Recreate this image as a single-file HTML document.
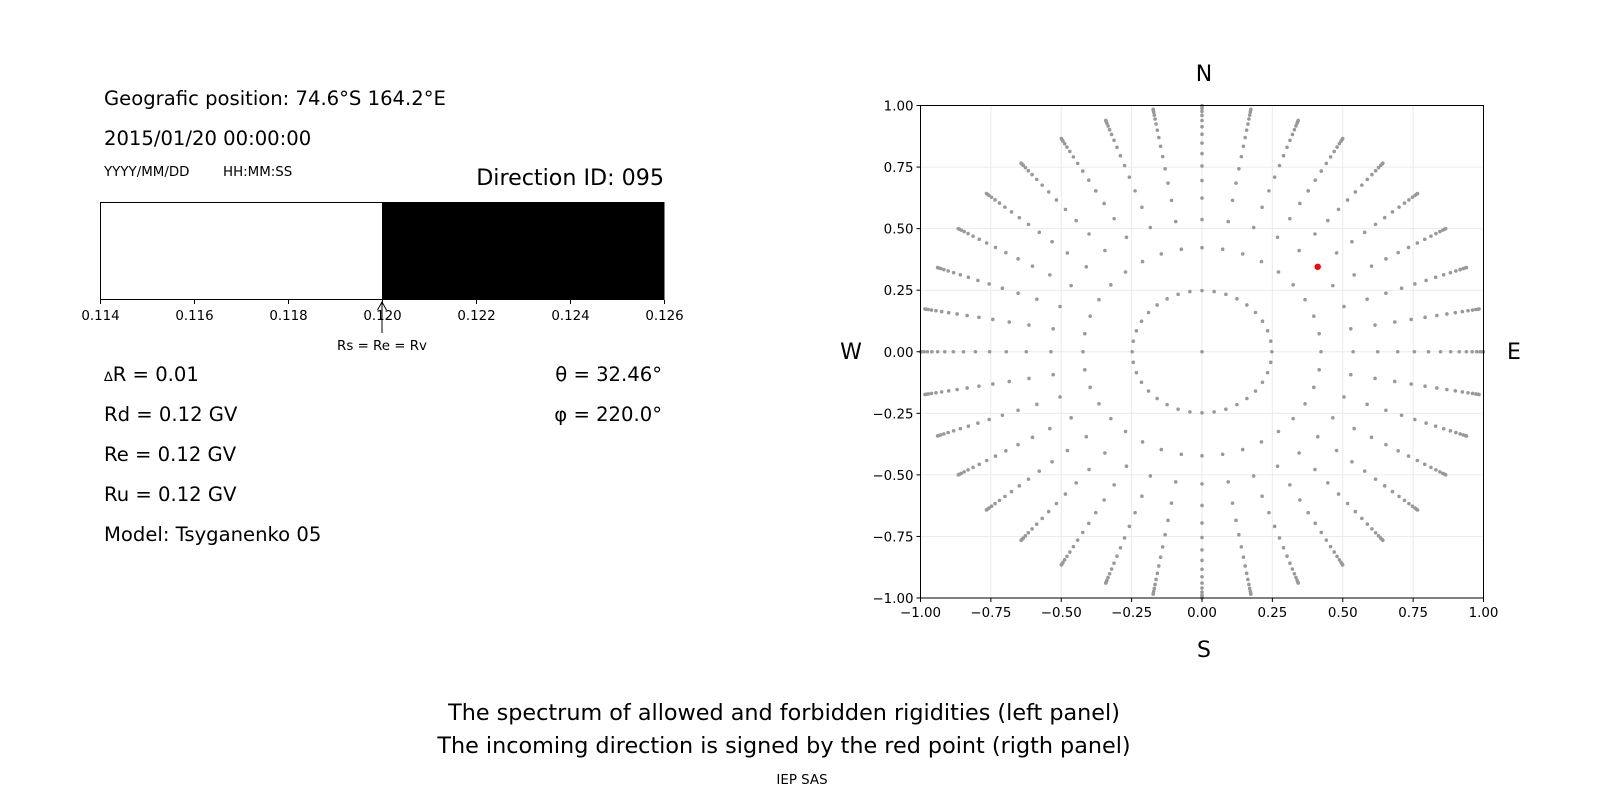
<!DOCTYPE html>
<html><head><meta charset="utf-8"><style>
html,body{margin:0;padding:0;background:#fff;}
svg text{font-family:"DejaVu Sans","Liberation Sans",sans-serif;fill:#000;}
</style></head><body>
<svg id="s" width="1600" height="800" viewBox="0 0 1600 800" xmlns="http://www.w3.org/2000/svg">
<rect width="1600" height="800" fill="#fff"/>
<text x="104" y="105" font-size="19.6">Geografic position: 74.6°S 164.2°E</text>
<text x="104" y="145" font-size="19.6">2015/01/20 00:00:00</text>
<text x="104" y="176" font-size="13.4">YYYY/MM/DD</text>
<text x="223" y="176" font-size="13.4">HH:MM:SS</text>
<text x="664" y="185" font-size="22.2" text-anchor="end">Direction ID: 095</text>
<rect x="100.5" y="202.5" width="282" height="97" fill="#fff" stroke="#000" stroke-width="1"/>
<rect x="382" y="202" width="282.5" height="98" fill="#000"/>
<g id="bt" font-size="13.4" text-anchor="middle"></g>
<line x1="382" y1="333" x2="382" y2="302" stroke="#000" stroke-width="1"/>
<path d="M377.5 310 L382 302 L386.5 310" fill="none" stroke="#000" stroke-width="1"/>
<text x="382" y="350" font-size="13.4" text-anchor="middle">Rs = Re = Rv</text>
<text x="104" y="381" font-size="19.6"><tspan font-size="13">∆</tspan>R = 0.01</text>
<text x="104" y="421" font-size="19.6">Rd = 0.12 GV</text>
<text x="104" y="461" font-size="19.6">Re = 0.12 GV</text>
<text x="104" y="501" font-size="19.6">Ru = 0.12 GV</text>
<text x="104" y="541" font-size="19.6">Model: Tsyganenko 05</text>
<text x="662" y="381" font-size="19.6" text-anchor="end">θ = 32.46°</text>
<text x="662" y="421" font-size="19.6" text-anchor="end">φ = 220.0°</text>
<g id="grid"></g>
<g id="dots"></g>
<rect x="920.5" y="105.5" width="563" height="492.5" fill="none" stroke="#000" stroke-width="1"/>
<g id="ax" font-size="13.4"></g>
<text x="1204" y="81" font-size="22" text-anchor="middle">N</text>
<text x="1204" y="657" font-size="22" text-anchor="middle">S</text>
<text x="851" y="359" font-size="22" text-anchor="middle">W</text>
<text x="1514" y="359" font-size="22" text-anchor="middle">E</text>
<text x="784" y="720" font-size="22.3" text-anchor="middle">The spectrum of allowed and forbidden rigidities (left panel)</text>
<text x="784" y="753" font-size="22.3" text-anchor="middle">The incoming direction is signed by the red point (rigth panel)</text>
<text x="802" y="784" font-size="13.4" text-anchor="middle">IEP SAS</text>
</svg>
<script>
var NS="http://www.w3.org/2000/svg";
function el(p,t,a,txt){var e=document.createElementNS(NS,t);for(var k in a)e.setAttribute(k,a[k]);if(txt!=null)e.textContent=txt;document.getElementById(p).appendChild(e);return e;}
var bl=["0.114","0.116","0.118","0.120","0.122","0.124","0.126"];
for(var i=0;i<7;i++){var x=100.5+i*94;el("bt","line",{x1:x,y1:300,x2:x,y2:304,stroke:"#000"});el("bt","text",{x:x,y:320},bl[i]);}
var L=920.5,R=1483.5,T=105.5,B=598,cx=(L+R)/2,cy=(T+B)/2,sx=(R-L)/2,sy=(B-T)/2;
var lab=["\u22121.00","\u22120.75","\u22120.50","\u22120.25","0.00","0.25","0.50","0.75","1.00"];
for(var i=0;i<9;i++){var v=-1+i*0.25;var x=cx+v*sx,y=cy-v*sy;
el("grid","line",{x1:x,y1:T,x2:x,y2:B,stroke:"#ebebeb","stroke-width":1});
el("grid","line",{x1:L,y1:y,x2:R,y2:y,stroke:"#ebebeb","stroke-width":1});
el("ax","line",{x1:x,y1:B,x2:x,y2:B+4,stroke:"#000"});
el("ax","line",{x1:L-4,y1:y,x2:L,y2:y,stroke:"#000"});
el("ax","text",{x:x,y:B+19,"text-anchor":"middle"},lab[i]);
el("ax","text",{x:L-7,y:y+5,"text-anchor":"end"},lab[i]);}
el("dots","circle",{cx:cx,cy:cy,r:1.8,fill:"#999"});
for(var k=0;k<16;k++){var c=1-(2*k+1)/32,r=Math.sqrt(1-c*c);
for(var j=0;j<36;j++){var a=j*10*Math.PI/180;
el("dots","circle",{cx:cx+r*Math.sin(a)*sx,cy:cy-r*Math.cos(a)*sy,r:1.8,fill:"#999"});}}
var rr=Math.sin(32.46*Math.PI/180),aa=40*Math.PI/180;
el("dots","circle",{cx:cx+rr*Math.cos(aa)*sx,cy:cy-rr*Math.sin(aa)*sy,r:3.2,fill:"#ff0000"});
</script>
</body></html>
